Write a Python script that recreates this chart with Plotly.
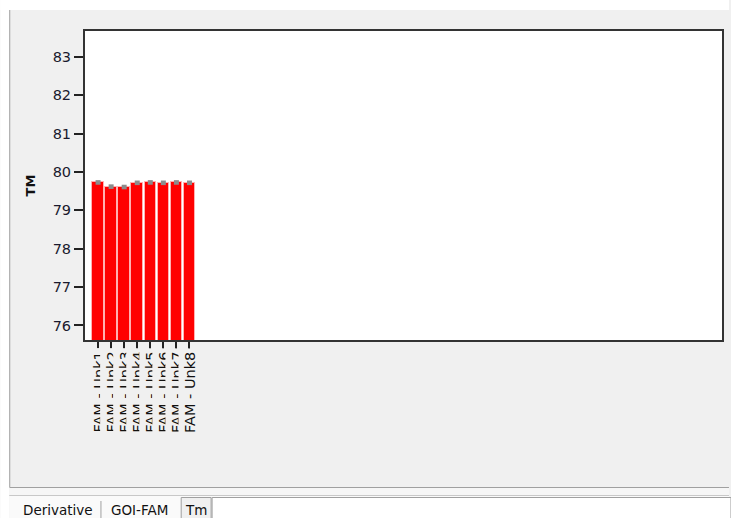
import plotly.graph_objects as go

# Melt temperature per well
samples = ["FAM - Unk1", "FAM - Unk2", "FAM - Unk3", "FAM - Unk4",
           "FAM - Unk5", "FAM - Unk6", "FAM - Unk7", "FAM - Unk8"]
tm_values = [79.73, 79.62, 79.61, 79.72, 79.73, 79.72, 79.73, 79.72]
tm_errors = [0.06, 0.06, 0.06, 0.06, 0.06, 0.06, 0.06, 0.06]
positions = [1, 2, 3, 4, 5, 6, 7, 8]
y_ticks = [76, 77, 78, 79, 80, 81, 82, 83]
tabs = ["Derivative", "GOI-FAM", "Tm"]

W, H = 731, 518
PL, PR, PT, PB = 85, 724, 31, 340


def fx(x):
    return (x - PL) / (PR - PL)


def fy(y):
    return (PB - y) / (PB - PT)


fig = go.Figure()
fig.add_trace(go.Bar(
    x=positions, y=tm_values, width=0.88,
    marker=dict(color="#ff0000", line=dict(color="#ffb0b0", width=1)),
    error_y=dict(type="data", array=tm_errors, color="#8c8c8c",
                 thickness=5, width=0),
    hoverinfo="skip",
))

shapes = []
grey_line = "#a0a0a0"
# white margins around the panel
shapes.append(dict(type="rect", xref="paper", yref="paper", layer="below",
                   x0=fx(0), x1=fx(W), y0=fy(0), y1=fy(10),
                   fillcolor="white", line=dict(width=0)))
shapes.append(dict(type="rect", xref="paper", yref="paper", layer="below",
                   x0=fx(0), x1=fx(9), y0=fy(0), y1=fy(H),
                   fillcolor="white", line=dict(width=0)))
# panel frame
shapes.append(dict(type="line", xref="paper", yref="paper",
                   x0=fx(9.5), x1=fx(9.5), y0=fy(10), y1=fy(487.5),
                   line=dict(color=grey_line, width=1)))
shapes.append(dict(type="line", xref="paper", yref="paper",
                   x0=fx(9.5), x1=fx(W), y0=fy(487.5), y1=fy(487.5),
                   line=dict(color=grey_line, width=1)))
# tab strip
shapes.append(dict(type="rect", xref="paper", yref="paper", layer="below",
                   x0=fx(9), x1=fx(W), y0=fy(488), y1=fy(496),
                   fillcolor="#f6f6f6", line=dict(width=0)))
shapes.append(dict(type="rect", xref="paper", yref="paper", layer="below",
                   x0=fx(9), x1=fx(W), y0=fy(496), y1=fy(H),
                   fillcolor="#fafafa", line=dict(width=0)))
shapes.append(dict(type="line", xref="paper", yref="paper",
                   x0=fx(9), x1=fx(W), y0=fy(495.5), y1=fy(495.5),
                   line=dict(color="#c8c8c8", width=1)))
shapes.append(dict(type="line", xref="paper", yref="paper",
                   x0=fx(101), x1=fx(101), y0=fy(501), y1=fy(H),
                   line=dict(color=grey_line, width=1)))
shapes.append(dict(type="rect", xref="paper", yref="paper",
                   x0=fx(181.5), x1=fx(211.5), y0=fy(497.5), y1=fy(H + 2),
                   fillcolor="#f0f0f0", line=dict(color=grey_line, width=1)))
shapes.append(dict(type="rect", xref="paper", yref="paper",
                   x0=fx(212.5), x1=fx(W + 2), y0=fy(497.5), y1=fy(H + 2),
                   fillcolor="white", line=dict(color=grey_line, width=1)))

annotations = []
# category labels; each one's background hides part of the one before
for pos, name in zip(positions, samples):
    annotations.append(dict(
        x=pos, y=0, xref="x", yref="paper", text=name, showarrow=False,
        textangle=-90, xanchor="center", yanchor="top", yshift=-8,
        bgcolor="#f0f0f0", borderpad=3,
        font=dict(family="DejaVu Sans", size=14.5, color="#111111"),
    ))
# tab captions
for cx, label in zip([58, 140, 196], tabs):
    annotations.append(dict(
        x=fx(cx), y=fy(509.5), xref="paper", yref="paper", text=label,
        showarrow=False, xanchor="center", yanchor="middle",
        font=dict(family="DejaVu Sans", size=13.5, color="#111111"),
    ))

fig.update_layout(
    width=W, height=H,
    margin=dict(l=PL, r=W - PR, t=PT, b=H - PB),
    paper_bgcolor="#f0f0f0", plot_bgcolor="white",
    showlegend=False, bargap=0,
    shapes=shapes, annotations=annotations,
    xaxis=dict(range=[0, (PR - PL) / 13.1], tickvals=positions,
               showticklabels=False, ticks="outside", ticklen=9,
               tickwidth=1.5, tickcolor="#222222", showgrid=False,
               zeroline=False, showline=True, linewidth=2,
               linecolor="#333333", mirror=True, fixedrange=True),
    yaxis=dict(range=[75.62, 83.68], tickvals=y_ticks,
               ticks="outside", ticklen=9, tickwidth=1.5,
               tickcolor="#222222", showgrid=False, zeroline=False,
               showline=True, linewidth=2, linecolor="#333333", mirror=True,
               tickfont=dict(family="DejaVu Sans", size=14.5, color="#1a1a2e"),
               title=dict(text="<b>TM</b>", standoff=14,
                          font=dict(family="DejaVu Sans", size=13,
                                    color="#111111")),
               fixedrange=True),
    font=dict(family="DejaVu Sans"),
)

fig.write_html("out.html")
